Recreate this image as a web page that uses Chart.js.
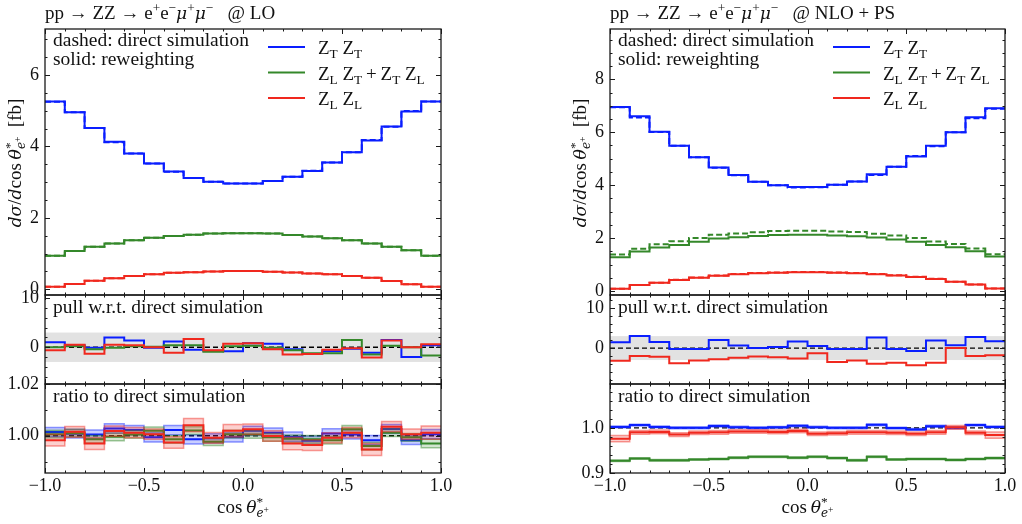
<!DOCTYPE html>
<html lang="en">
<head>
<meta charset="UTF-8" />
<title>ZZ polarisation: cos theta e+ distribution, LO and NLO+PS</title>
<script src="https://cdn.jsdelivr.net/npm/chart.js"></script>
<style>
  body { margin: 0; background: #fff; }
  #wrap { position: relative; width: 1022px; height: 524px; }
  #wrap canvas { position: absolute; left: 0; top: 0; }
</style>
</head>
<body>
<div id="wrap">
  <canvas id="loMain" width="1022" height="524"></canvas>
  <canvas id="loPull" width="1022" height="524"></canvas>
  <canvas id="loRatio" width="1022" height="524"></canvas>
  <canvas id="nloMain" width="1022" height="524"></canvas>
  <canvas id="nloPull" width="1022" height="524"></canvas>
  <canvas id="nloRatio" width="1022" height="524"></canvas>
</div>
<script>
  const FONT = '"Liberation Serif", "DejaVu Serif", serif';
  const IFONT = '"DejaVu Serif", "Liberation Serif", serif';
  const BLUE = '#0a1eff', GREEN = '#34882a', RED = '#f0281e';
  const BLUE_RGB = '10,30,255', GREEN_RGB = '52,136,42', RED_RGB = '240,40,30';

  // bins in cos(theta*) and x ticks
  const binEdges = [-1.0, -0.9, -0.8, -0.7, -0.6, -0.5, -0.4, -0.3, -0.2, -0.1, 0.0,
                    0.1, 0.2, 0.3, 0.4, 0.5, 0.6, 0.7, 0.8, 0.9, 1.0];
  const xTicks = [-1, -0.5, 0, 0.5, 1];
  const xTickLabels = ['\u22121.0', '\u22120.5', '0.0', '0.5', '1.0'];

  // LO, reweighting (solid) and direct simulation (dashed) [fb]
  const loTT = [5.26, 4.96, 4.52, 4.13, 3.80, 3.52, 3.30, 3.12, 3.01, 2.96, 2.96, 3.03, 3.15, 3.31, 3.55, 3.84, 4.17, 4.56, 4.98, 5.26];
  const loLT = [0.94, 1.07, 1.19, 1.28, 1.37, 1.44, 1.49, 1.53, 1.56, 1.57, 1.57, 1.56, 1.52, 1.48, 1.43, 1.37, 1.28, 1.19, 1.09, 0.94];
  const loLL = [0.07, 0.15, 0.24, 0.31, 0.37, 0.42, 0.46, 0.48, 0.50, 0.51, 0.51, 0.49, 0.47, 0.44, 0.42, 0.37, 0.32, 0.23, 0.14, 0.07];
  const loDirTT = [5.25, 4.96, 4.52, 4.12, 3.80, 3.52, 3.29, 3.12, 3.01, 2.96, 2.96, 3.03, 3.15, 3.32, 3.55, 3.84, 4.18, 4.55, 4.99, 5.26];
  const loDirLT = [0.94, 1.07, 1.19, 1.28, 1.37, 1.44, 1.49, 1.53, 1.56, 1.57, 1.57, 1.56, 1.52, 1.48, 1.43, 1.37, 1.28, 1.19, 1.09, 0.94];
  const loDirLL = [0.07, 0.15, 0.24, 0.31, 0.37, 0.42, 0.46, 0.48, 0.50, 0.51, 0.51, 0.49, 0.47, 0.44, 0.42, 0.37, 0.32, 0.23, 0.14, 0.07];

  // NLO+PS
  const nloTT = [6.95, 6.60, 6.02, 5.49, 5.05, 4.67, 4.38, 4.13, 4.00, 3.93, 3.93, 4.02, 4.14, 4.41, 4.70, 5.08, 5.49, 6.00, 6.57, 6.91];
  const nloLT = [1.28, 1.49, 1.64, 1.74, 1.86, 1.98, 2.03, 2.08, 2.12, 2.13, 2.13, 2.10, 2.07, 2.02, 1.95, 1.86, 1.74, 1.65, 1.50, 1.30];
  const nloLL = [0.09, 0.23, 0.31, 0.42, 0.50, 0.58, 0.63, 0.67, 0.69, 0.71, 0.71, 0.69, 0.67, 0.63, 0.59, 0.53, 0.45, 0.35, 0.25, 0.10];
  const nloDirTT = [6.94, 6.56, 6.01, 5.49, 5.05, 4.66, 4.37, 4.13, 4.00, 3.91, 3.92, 4.02, 4.14, 4.38, 4.70, 5.10, 5.47, 6.00, 6.53, 6.89];
  const nloDirLT = [1.38, 1.60, 1.77, 1.88, 2.00, 2.13, 2.17, 2.22, 2.27, 2.28, 2.28, 2.25, 2.23, 2.16, 2.10, 2.00, 1.87, 1.78, 1.61, 1.39];
  const nloDirLL = [0.09, 0.23, 0.31, 0.43, 0.51, 0.59, 0.64, 0.68, 0.70, 0.72, 0.72, 0.70, 0.68, 0.64, 0.60, 0.54, 0.46, 0.35, 0.25, 0.10];

  // pulls w.r.t. direct simulation
  const loPullTT = [1.0, 0.4, -0.1, 2.0, 1.4, -0.1, 1.2, -0.5, -0.7, -0.8, 0.8, 0.7, -0.4, -1.4, -0.8, -0.3, -1.1, 1.5, -2.0, 0.4];
  const loPullLT = [0.0, 0.2, -0.4, -0.1, 0.2, 0.1, 0.4, 0.4, -0.9, 0.2, 0.3, -0.1, -0.6, -1.2, -1.2, 1.5, -1.5, 0.3, 0.0, -1.7];
  const loPullLL = [-0.6, 0.5, -1.3, 0.5, 0.4, 0.0, -1.1, 1.7, -0.6, 0.7, 0.8, -0.4, -1.5, -1.4, -0.5, -0.2, -2.1, 1.4, 0.0, 0.6];
  const nloPullTT = [1.45, 3.05, 1.5, -0.2, -0.25, 2.0, 0.65, 0.05, 0.3, 1.65, 0.55, -0.2, -0.2, 2.65, -0.2, -0.75, 1.9, 0.7, 2.8, 1.7];
  const nloPullLL = [-3.2, -2.0, -2.2, -3.8, -3.1, -2.8, -2.4, -2.1, -2.3, -2.6, -1.3, -3.5, -3.1, -3.9, -3.7, -4.3, -3.7, 0.0, -2.0, -1.8];

  // ratios to direct simulation, with their uncertainties
  const loRatioTT = [1.0014, 1.0008, 1.0005, 1.0028, 1.0022, 0.9994, 1.0022, 0.9986, 0.9990, 0.9994, 1.0019, 1.0012, 0.9996, 0.9981, 1.0009, 1.0005, 0.9983, 1.0026, 0.9983, 1.0006];
  const loRatioLT = [1.0006, 1.0010, 0.9986, 0.9996, 1.0005, 1.0019, 0.9986, 1.0020, 0.9977, 1.0006, 1.0005, 0.9994, 0.9988, 0.9986, 0.9983, 1.0025, 0.9960, 1.0012, 0.9994, 0.9970];
  const loRatioLL = [0.9983, 1.0015, 0.9970, 1.0018, 1.0012, 1.0006, 0.9974, 1.0041, 0.9992, 1.0019, 1.0025, 0.9999, 0.9970, 0.9964, 0.9992, 1.0012, 0.9947, 1.0035, 1.0006, 1.0012];
  const loErrTT = [0.0018, 0.0017, 0.0017, 0.0018, 0.0018, 0.0018, 0.0018, 0.0018, 0.0018, 0.0018, 0.0018, 0.0018, 0.0018, 0.0018, 0.0018, 0.0018, 0.0018, 0.0017, 0.0017, 0.0018];
  const loErrLT = [0.0015, 0.0015, 0.0015, 0.0015, 0.0015, 0.0015, 0.0015, 0.0015, 0.0015, 0.0015, 0.0015, 0.0015, 0.0015, 0.0015, 0.0015, 0.0015, 0.0015, 0.0015, 0.0015, 0.0016];
  const loErrLL = [0.0023, 0.0021, 0.0023, 0.0020, 0.0020, 0.0020, 0.0022, 0.0026, 0.0021, 0.0024, 0.0020, 0.0020, 0.0024, 0.0021, 0.0020, 0.0020, 0.0023, 0.0020, 0.0020, 0.0026];
  const nloRatioTT = [1.002, 1.006, 1.002, 1.000, 1.000, 1.004, 1.0015, 1.000, 1.001, 1.0045, 1.0015, 1.000, 1.000, 1.0067, 0.9995, 0.9965, 1.0035, 1.000, 1.006, 1.002];
  const nloRatioLT = [0.927, 0.932, 0.928, 0.928, 0.930, 0.931, 0.934, 0.936, 0.936, 0.934, 0.936, 0.933, 0.928, 0.936, 0.930, 0.931, 0.931, 0.929, 0.931, 0.933];
  const nloRatioLL = [0.976, 0.990, 0.991, 0.985, 0.989, 0.990, 0.992, 0.992, 0.991, 0.993, 0.987, 0.988, 0.990, 0.990, 0.989, 0.987, 0.990, 1.001, 0.989, 0.984];
  const nloErrTT = [0.002, 0.002, 0.002, 0.002, 0.002, 0.002, 0.002, 0.002, 0.002, 0.002, 0.002, 0.002, 0.002, 0.002, 0.002, 0.002, 0.002, 0.002, 0.002, 0.002];
  const nloErrLT = [0.0018, 0.0018, 0.0018, 0.0018, 0.0018, 0.0018, 0.0018, 0.0018, 0.0018, 0.0018, 0.0018, 0.0018, 0.0018, 0.0018, 0.0018, 0.0018, 0.0018, 0.0018, 0.0018, 0.0018];
  const nloErrLL = [0.007, 0.004, 0.004, 0.004, 0.004, 0.004, 0.004, 0.004, 0.004, 0.004, 0.004, 0.004, 0.004, 0.004, 0.004, 0.004, 0.004, 0.004, 0.004, 0.007];

  const W = 1022, H = 524, YW = 40, XH = 40;

  // rich text: [text, style] with i = italic, ^ = sup, _ = sub, = = sup on a sub, ! = no advance
  function drawRich(ctx, parts, x, y, size, align) {
    const items = parts.map(([t, s = '']) => {
      let fs = size, dy = 0;
      if (s.includes('^')) { fs = size * 0.7; dy = -size * 0.38; }
      if (s.includes('_')) { fs = size * 0.7; dy = size * 0.22; }
      if (s.includes('=')) { fs = size * 0.5; dy = size * 0.02; }
      const font = s.includes('i') ? 'italic ' + (fs * 0.9).toFixed(1) + 'px ' + IFONT
                                   : fs.toFixed(1) + 'px ' + FONT;
      ctx.font = font;
      return { t, font, dy, w: ctx.measureText(t).width, adv: !s.includes('!') };
    });
    let total = 0;
    items.forEach(it => { if (it.adv) total += it.w; });
    let cx = align === 'center' ? x - total / 2 : x;
    ctx.textBaseline = 'alphabetic';
    ctx.textAlign = 'left';
    items.forEach(it => {
      ctx.font = it.font;
      ctx.fillText(it.t, cx, y + it.dy);
      if (it.adv) cx += it.w;
    });
  }

  const thetaE = [['\u03b8', 'i'], ['*', '^!'], ['e', '_i'], ['+', '=']];
  const yTitle = [['d', 'i'], ['\u03c3', 'i'], ['/'], ['d', 'i'], ['cos\u2009'], ...thetaE, ['  [fb]']];
  const xTitle = [['cos\u2009'], ...thetaE];
  const legendItems = [
    { color: BLUE, parts: [['Z'], ['T', '_'], [' Z'], ['T', '_']] },
    { color: GREEN, parts: [['Z'], ['L', '_'], [' Z'], ['T', '_'], ['\u2009+\u2009Z'], ['T', '_'], [' Z'], ['L', '_']] },
    { color: RED, parts: [['Z'], ['L', '_'], [' Z'], ['L', '_']] }
  ];
  function procTitle(order) {
    return [['pp \u2192 ZZ \u2192 e'], ['+', '^'], ['e'], ['\u2212', '^'], ['\u03bc', 'i'], ['+', '^'],
            ['\u03bc', 'i'], ['\u2212', '^'], ['   @ ' + order]];
  }

  function hist(vals) {
    return binEdges.map((x, i) => ({ x, y: vals[Math.min(i, vals.length - 1)] }));
  }
  function line(vals, color, extra) {
    return Object.assign({ data: hist(vals), borderColor: color, borderWidth: 2, stepped: true,
      pointRadius: 0, fill: false }, extra || {});
  }
  function dashed(vals, color) { return line(vals, color, { borderDash: [6, 3] }); }
  function band(vals, errs, rgb, color) {
    return [
      line(vals, color),
      line(vals.map((v, i) => v + errs[i]), 'rgba(' + rgb + ',0.45)', { borderWidth: 1.5 }),
      line(vals.map((v, i) => v - errs[i]), 'rgba(' + rgb + ',0.45)',
        { borderWidth: 1.5, fill: '-1', backgroundColor: 'rgba(' + rgb + ',0.22)' })
    ];
  }

  function framePlugin(p) {
    return {
      id: 'frame',
      beforeDatasetsDraw(chart) {
        const { ctx, chartArea: c, scales: { y } } = chart;
        ctx.save();
        if (p.band) {
          ctx.fillStyle = '#e2e2e2';
          const y1 = y.getPixelForValue(p.ref + p.band), y2 = y.getPixelForValue(p.ref - p.band);
          ctx.fillRect(c.left, y1, c.right - c.left, y2 - y1);
        }
        if (p.ref !== undefined) {
          const yy = y.getPixelForValue(p.ref);
          ctx.strokeStyle = '#000';
          ctx.lineWidth = 1.3;
          ctx.setLineDash([5, 3]);
          ctx.beginPath(); ctx.moveTo(c.left, yy); ctx.lineTo(c.right, yy); ctx.stroke();
        }
        ctx.restore();
      },
      afterDatasetsDraw(chart) {
        const { ctx, chartArea: c, scales: { x, y } } = chart;
        ctx.save();
        ctx.strokeStyle = '#1a1a1a';
        ctx.lineWidth = 1;
        ctx.beginPath();
        const tick = (px, len, vertical) => {
          if (vertical) {
            ctx.moveTo(px, c.bottom); ctx.lineTo(px, c.bottom - len);
            ctx.moveTo(px, c.top); ctx.lineTo(px, c.top + len);
          } else {
            ctx.moveTo(c.left, px); ctx.lineTo(c.left + len, px);
            ctx.moveTo(c.right, px); ctx.lineTo(c.right - len, px);
          }
        };
        binEdges.forEach(v => tick(Math.round(x.getPixelForValue(v)) + 0.5, 2.5, true));
        xTicks.forEach(v => tick(Math.round(x.getPixelForValue(v)) + 0.5, 5, true));
        for (let k = Math.ceil(p.yMin / p.yMinor - 1e-6); k * p.yMinor <= p.yMax + 1e-9; k++) {
          tick(Math.round(y.getPixelForValue(k * p.yMinor)) + 0.5, 2.5, false);
        }
        p.yTicks.forEach(v => tick(Math.round(y.getPixelForValue(v)) + 0.5, 5, false));
        ctx.stroke();
        ctx.lineWidth = 1.3;
        ctx.strokeRect(c.left, c.top, c.right - c.left, c.bottom - c.top);
        ctx.restore();
      },
      afterDraw(chart) {
        const ctx = chart.ctx;
        ctx.save();
        ctx.fillStyle = '#111';
        (p.notes || []).forEach(n => {
          if (n.rot) {
            ctx.save();
            ctx.translate(n.x, n.y);
            ctx.rotate(-Math.PI / 2);
            drawRich(ctx, n.parts, 0, 0, n.size, n.align);
            ctx.restore();
          } else {
            drawRich(ctx, n.parts, n.x, n.y, n.size, n.align);
          }
        });
        if (p.legend) {
          const L = p.legend;
          legendItems.forEach((it, i) => {
            const yy = L.y + i * 25.5;
            ctx.strokeStyle = it.color;
            ctx.lineWidth = 2;
            ctx.beginPath(); ctx.moveTo(L.x, yy); ctx.lineTo(L.x + 37, yy); ctx.stroke();
            ctx.fillStyle = '#111';
            drawRich(ctx, it.parts, L.x + 50, yy + 7, 19, 'left');
          });
        }
        ctx.restore();
      }
    };
  }

  function panel(id, p) {
    const a = p.area;
    const tickFont = { family: FONT, size: 18 };
    new Chart(document.getElementById(id), {
      type: 'line',
      data: { datasets: p.datasets },
      options: {
        responsive: false,
        animation: false,
        events: [],
        layout: { padding: { left: a.l - YW, right: W - a.r, top: a.t, bottom: H - a.b - (p.xLabels ? XH : 0) } },
        plugins: { legend: { display: false }, tooltip: { enabled: false } },
        scales: {
          x: {
            type: 'linear', min: -1, max: 1, display: !!p.xLabels,
            grid: { display: false, drawTicks: false }, border: { display: false },
            afterBuildTicks: s => { s.ticks = xTicks.map(v => ({ value: v })); },
            afterFit: s => { if (p.xLabels) s.height = XH; },
            ticks: { padding: 2, maxRotation: 0, autoSkip: false, color: '#111', font: tickFont,
                     callback: (v, i) => xTickLabels[i] }
          },
          y: {
            type: 'linear', min: p.yMin, max: p.yMax,
            grid: { display: false, drawTicks: false }, border: { display: false },
            afterBuildTicks: s => { s.ticks = p.yTicks.map(v => ({ value: v })); },
            afterFit: s => { s.width = YW; },
            ticks: { padding: 6, autoSkip: false, color: '#111', font: tickFont,
                     callback: (v, i) => p.yLabels[i] }
          }
        }
      },
      plugins: [framePlugin(p)]
    });
  }

  const cols = [
    { key: 'lo', l: 45, r: 441, title: 'LO', yl: 15,
      main: [loTT, loLT, loLL], dir: [loDirTT, loDirLT, loDirLL],
      mainY: { min: -0.16, max: 7.29, ticks: [0, 2, 4, 6], labels: ['0', '2', '4', '6'] },
      pull: [[loPullLL, RED], [loPullLT, GREEN], [loPullTT, BLUE]],
      pullY: { min: -7.5, max: 10.67 },
      ratio: [[loRatioLL, loErrLL, RED_RGB, RED], [loRatioLT, loErrLT, GREEN_RGB, GREEN], [loRatioTT, loErrTT, BLUE_RGB, BLUE]],
      ratioY: { min: 0.9856, max: 1.02, ticks: [1.0, 1.02], labels: ['1.00', '1.02'], minor: 0.01 } },
    { key: 'nlo', l: 610, r: 1005, title: 'NLO + PS', yl: 580,
      main: [nloTT, nloLT, nloLL], dir: [nloDirTT, nloDirLT, nloDirLL],
      mainY: { min: -0.15, max: 9.9, ticks: [0, 2, 4, 6, 8], labels: ['0', '2', '4', '6', '8'] },
      pull: [[nloPullLL, RED], [nloPullTT, BLUE]],
      pullY: { min: -9.0, max: 13.3 },
      ratio: [[nloRatioLL, nloErrLL, RED_RGB, RED], [nloRatioLT, nloErrLT, GREEN_RGB, GREEN], [nloRatioTT, nloErrTT, BLUE_RGB, BLUE]],
      ratioY: { min: 0.9, max: 1.097, ticks: [0.9, 1.0], labels: ['0.9', '1.0'], minor: 0.02 } }
  ];

  cols.forEach(c => {
    const [tt, lt, ll] = c.main, [dtt, dlt, dll] = c.dir;
    panel(c.key + 'Main', {
      area: { l: c.l, r: c.r, t: 29, b: 295 },
      yMin: c.mainY.min, yMax: c.mainY.max, yTicks: c.mainY.ticks, yLabels: c.mainY.labels, yMinor: 0.5,
      datasets: [line(ll, RED), line(lt, GREEN), line(tt, BLUE), dashed(dll, RED), dashed(dlt, GREEN), dashed(dtt, BLUE)],
      legend: { x: c.l + 223, y: 47 },
      notes: [
        { parts: procTitle(c.title), x: c.l, y: 19, size: 19 },
        { parts: [['dashed: direct simulation']], x: c.l + 8, y: 46, size: 19.5 },
        { parts: [['solid: reweighting']], x: c.l + 8, y: 65, size: 19.5 },
        { parts: yTitle, x: c.yl + 6, y: 163, size: 19, align: 'center', rot: true }
      ]
    });
    panel(c.key + 'Pull', {
      area: { l: c.l, r: c.r, t: 295, b: 384 },
      yMin: c.pullY.min, yMax: c.pullY.max, yTicks: [0, 10], yLabels: ['0', '10'], yMinor: 2,
      ref: 0, band: 3,
      datasets: c.pull.map(([v, col]) => line(v, col)),
      notes: [{ parts: [['pull w.r.t. direct simulation']], x: c.l + 8, y: 313, size: 19.5 }]
    });
    panel(c.key + 'Ratio', {
      area: { l: c.l, r: c.r, t: 384, b: 473 }, xLabels: true,
      yMin: c.ratioY.min, yMax: c.ratioY.max, yTicks: c.ratioY.ticks, yLabels: c.ratioY.labels, yMinor: c.ratioY.minor,
      ref: 1,
      datasets: c.ratio.flatMap(([v, e, rgb, col]) => band(v, e, rgb, col)),
      notes: [
        { parts: [['ratio to direct simulation']], x: c.l + 8, y: 402, size: 19.5 },
        { parts: xTitle, x: (c.l + c.r) / 2, y: 513, size: 19, align: 'center' }
      ]
    });
  });
</script>
</body>
</html>
